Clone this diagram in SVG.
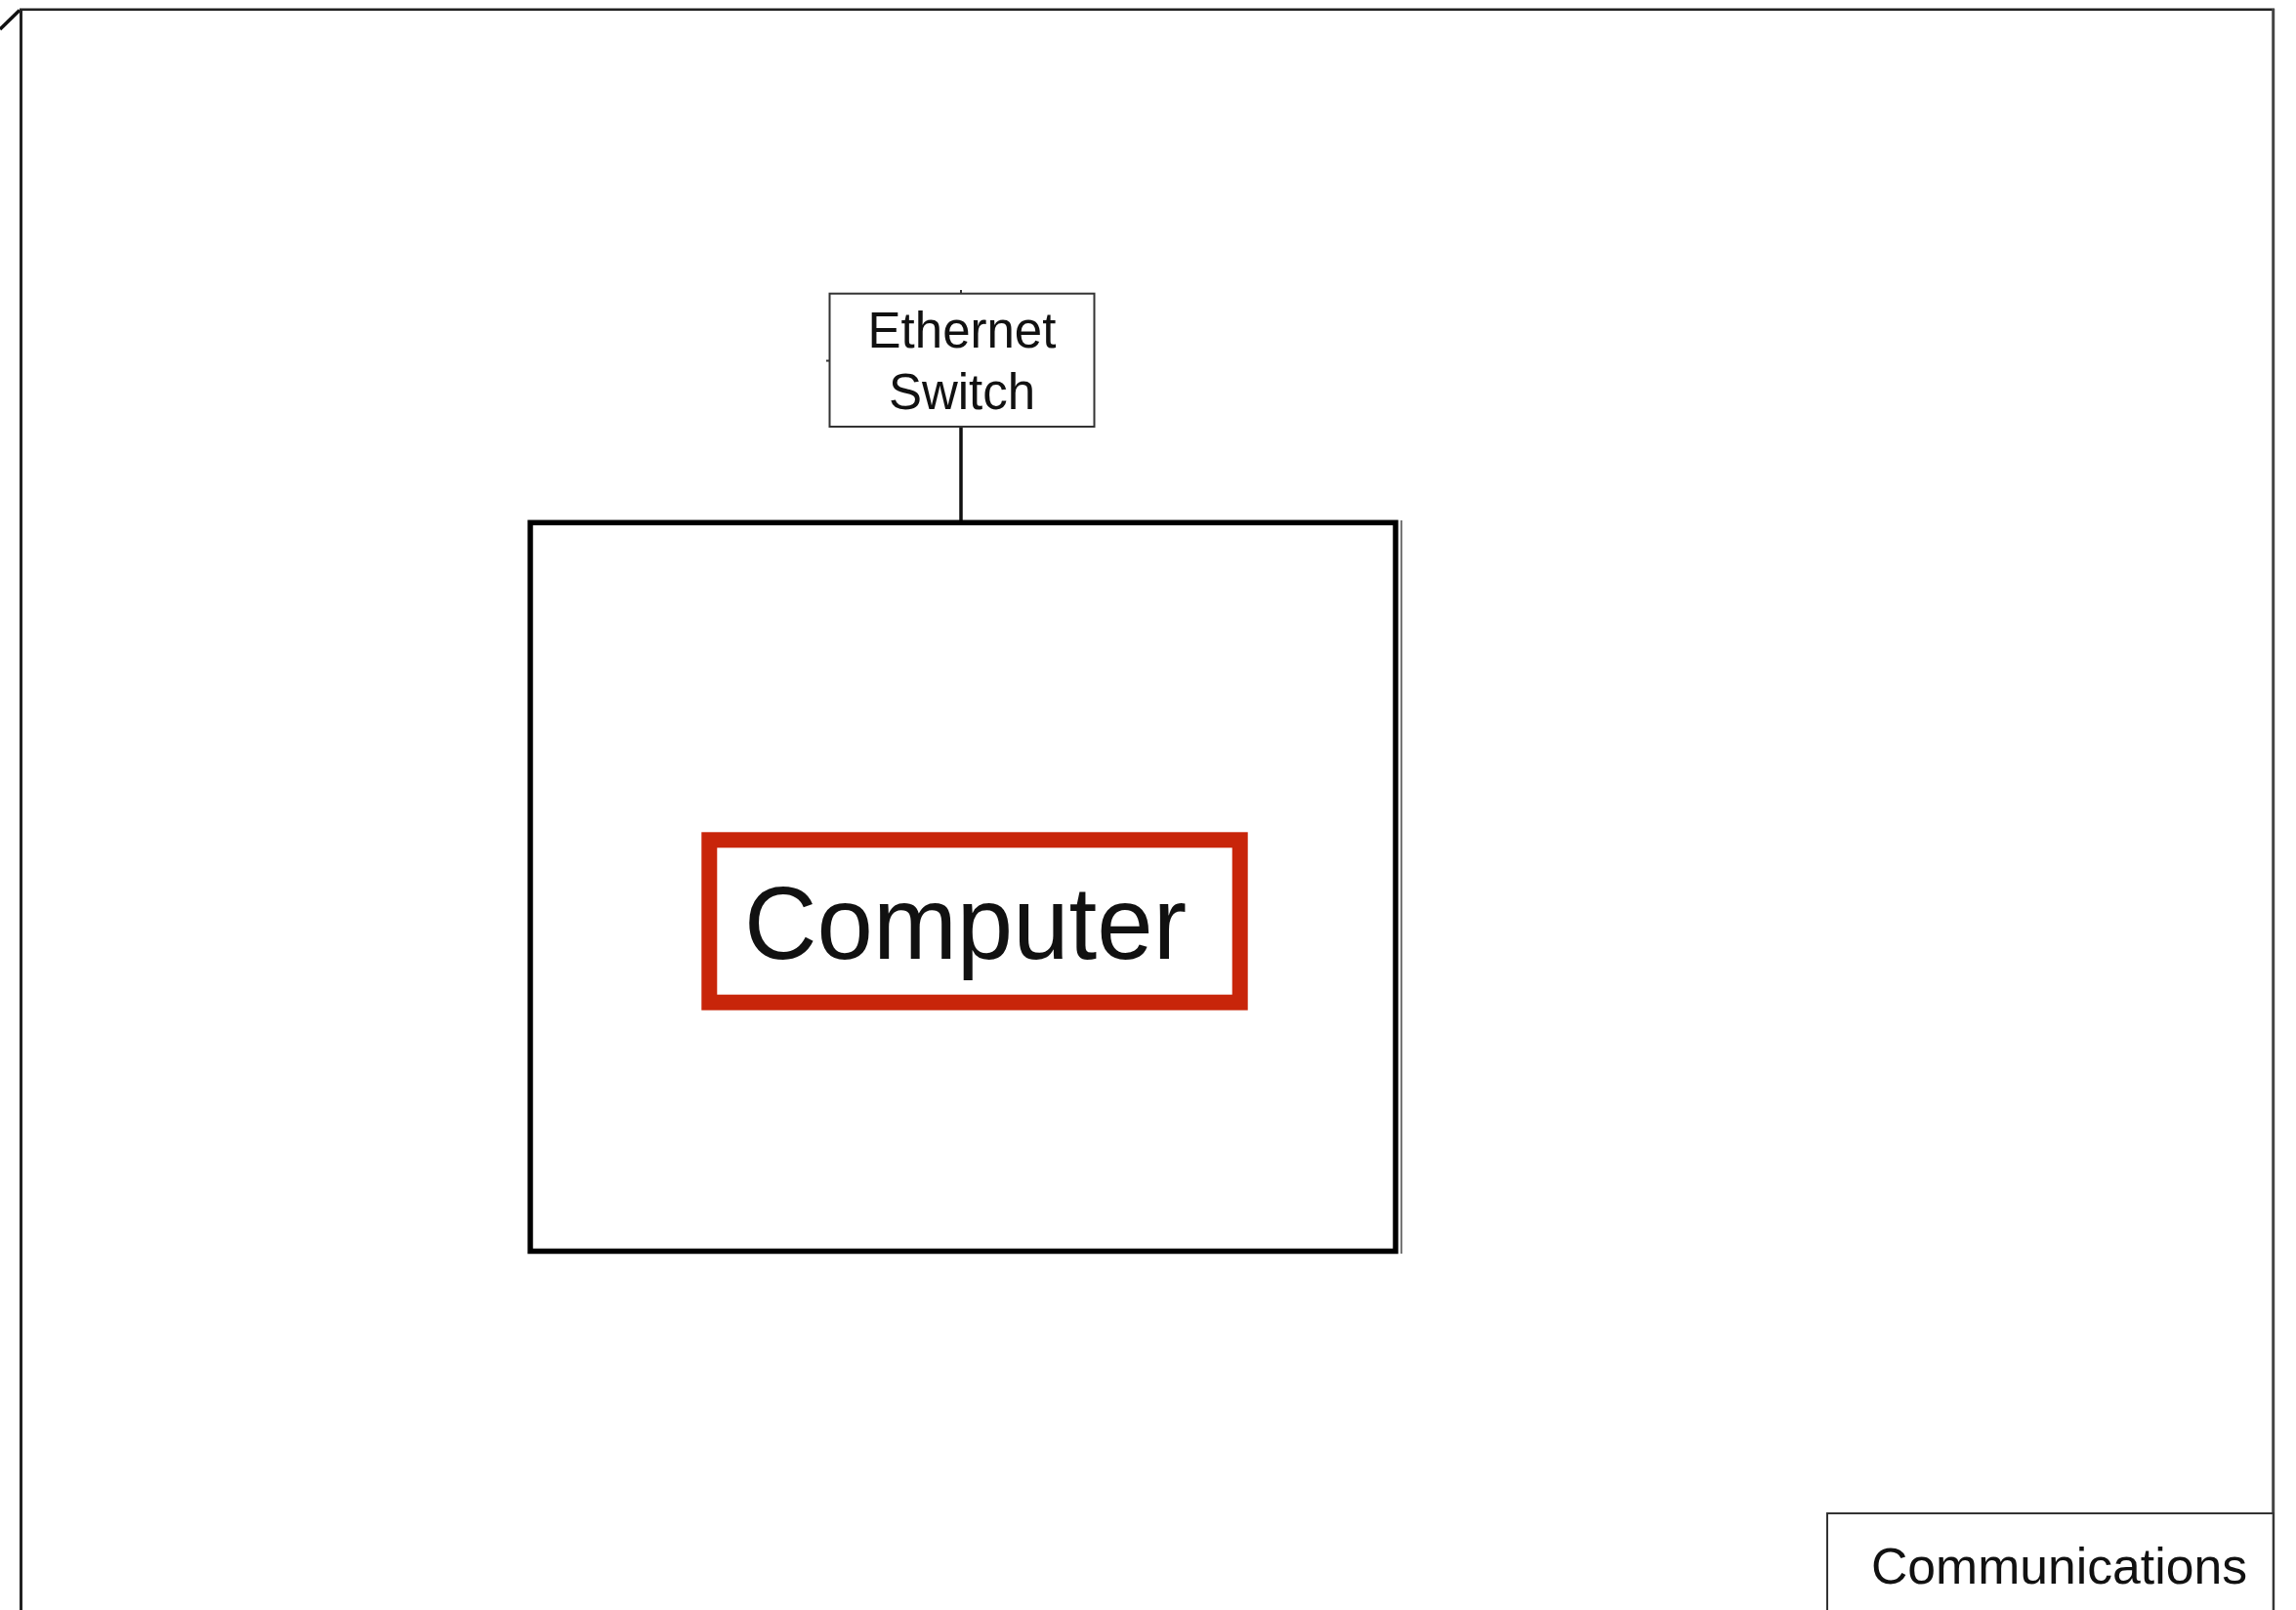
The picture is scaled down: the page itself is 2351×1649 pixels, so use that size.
<svg xmlns="http://www.w3.org/2000/svg" width="2351" height="1649" viewBox="0 0 2351 1649">
<style>
.t{font-family:"Liberation Sans",Arial,sans-serif;fill:#111}
.thin{fill:#fff;stroke:#333;stroke-width:2}
</style>
<rect width="2351" height="1649" fill="#fff"/>
<g id="frame" fill="none">
<line x1="0" y1="30" x2="20" y2="10.5" stroke="#111" stroke-width="3.5"/>
<line x1="20" y1="9.7" x2="2329" y2="9.7" stroke="#222" stroke-width="2.5"/>
<line x1="21.5" y1="9" x2="21.5" y2="1649" stroke="#222" stroke-width="3"/>
<line x1="2327.7" y1="9" x2="2327.7" y2="1649" stroke="#444" stroke-width="3"/>
</g>
<g id="connectors">
<line x1="984" y1="437" x2="984" y2="535" stroke="#111" stroke-width="3.5"/>
</g>
<g id="switch">
<line x1="984" y1="297" x2="984" y2="301" stroke="#333" stroke-width="2"/>
<line x1="846" y1="369.5" x2="849" y2="369.5" stroke="#333" stroke-width="2"/>
<rect class="thin" x="849.5" y="300.7" width="271" height="136.3"/>
<text class="t" x="985" y="356" font-size="51" text-anchor="middle">Ethernet</text>
<text class="t" x="985" y="419" font-size="51" text-anchor="middle">Switch</text>
</g>
<g id="computer">
<line x1="1435" y1="533" x2="1435" y2="1284" stroke="#777" stroke-width="2"/>
<rect x="543" y="535.3" width="886" height="746.2" fill="#fff" stroke="#000" stroke-width="5.5"/>
<rect x="726.3" y="860.3" width="543.4" height="166.4" fill="#fff" stroke="#c8250a" stroke-width="16"/>
<text class="t" x="988.5" y="981.5" font-size="106" text-anchor="middle" textLength="453" lengthAdjust="spacingAndGlyphs">Computer</text>
</g>
<g id="communications">
<rect class="thin" x="1871" y="1550" width="456.7" height="120"/>
<text class="t" x="1916" y="1621.5" font-size="52" textLength="385" lengthAdjust="spacingAndGlyphs">Communications</text>
</g>
</svg>
